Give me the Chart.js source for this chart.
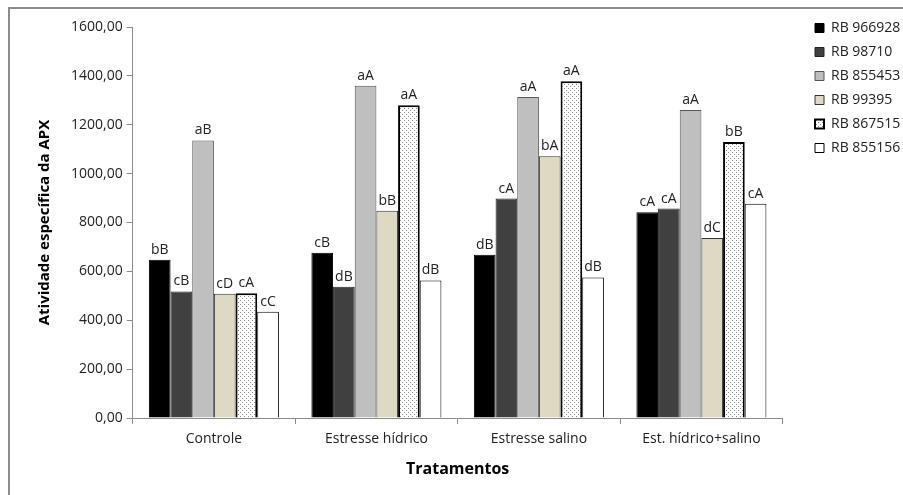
<!DOCTYPE html>
<html>
<head>
<meta charset="utf-8">
<script src="https://cdn.jsdelivr.net/npm/chart.js@4.4.0/dist/chart.umd.min.js"></script>
<style>
  html, body { margin: 0; padding: 0; background: #fff; }
  #wrap { position: relative; width: 903px; height: 495px; overflow: hidden; }
  #frame { position: absolute; left: 8px; top: 7px; width: 1000px; height: 600px;
           border-left: 2px solid #8c8c8c; border-top: 2px solid #8c8c8c; }
  canvas { position: absolute; left: 0; top: 0; }
</style>
</head>
<body>
<div id="wrap">
  <div id="frame"></div>
  <canvas id="chart" width="903" height="495"></canvas>
</div>
<script>
// categorias (tratamentos)
const tratamentos = ['Controle', 'Estresse hídrico', 'Estresse salino', 'Est. hídrico+salino'];

// variedades
const rb966928 = [648, 676, 668, 842];
const rb98710  = [518, 537, 898, 857];
const rb855453 = [1136, 1360, 1314, 1260];
const rb99395  = [508, 848, 1071, 737];
const rb867515 = [510, 1280, 1378, 1129];
const rb855156 = [435, 563, 575, 877];

// letras do teste de médias
const let966928 = ['bB', 'cB', 'dB', 'cA'];
const let98710  = ['cB', 'dB', 'cA', 'cA'];
const let855453 = ['aB', 'aA', 'aA', 'aA'];
const let99395  = ['cD', 'bB', 'bA', 'dC'];
const let867515 = ['cA', 'aA', 'aA', 'bB'];
const let855156 = ['cC', 'dB', 'dB', 'cA'];

const yTicks = [0, 200, 400, 600, 800, 1000, 1200, 1400, 1600];

// padrão pontilhado
const makeDots = () => {
  const c = document.createElement('canvas');
  c.width = 4; c.height = 4;
  const g = c.getContext('2d');
  g.fillStyle = '#fff';
  g.fillRect(0, 0, 4, 4);
  g.fillStyle = '#8a8a8a';
  g.fillRect(0, 0, 1, 1);
  g.fillRect(2, 2, 1, 1);
  return g.createPattern(c, 'repeat');
};
const dots = makeDots();

const FONT = "'Open Sans', 'Noto Sans', sans-serif";

const labelPlugin = {
  id: 'letras',
  afterDatasetsDraw(chart) {
    const ctx = chart.ctx;
    ctx.save();
    ctx.font = '14px ' + FONT;
    ctx.fillStyle = '#222';
    ctx.textAlign = 'center';
    ctx.textBaseline = 'bottom';
    chart.data.datasets.forEach((ds, i) => {
      const meta = chart.getDatasetMeta(i);
      meta.data.forEach((bar, j) => {
        ctx.fillText(ds.letras[j], bar.x, bar.y - 3);
      });
    });
    ctx.restore();
  }
};

// legenda no canto superior direito
const legendPos = {
  id: 'legendPos',
  afterLayout(chart) {
    const lg = chart.legend;
    const w = lg.width, h = lg.height;
    lg.left = 805; lg.right = 805 + w;
    lg.top = 11; lg.bottom = 11 + h;
  }
};

const mk = (label, data, letras, bg, border, bw) => ({
  label, data, letras,
  backgroundColor: bg,
  borderColor: border,
  borderWidth: bw,
  borderSkipped: 'bottom'
});

new Chart(document.getElementById('chart'), {
  type: 'bar',
  data: {
    labels: tratamentos,
    datasets: [
      mk('RB 966928', rb966928, let966928, '#000000', '#000000', 1),
      mk('RB 98710', rb98710, let98710, '#404040', '#222222', 1),
      mk('RB 855453', rb855453, let855453, '#bfbfbf', '#555555', 1),
      mk('RB 99395', rb99395, let99395, '#ddd9c3', '#333333', 1),
      mk('RB 867515', rb867515, let867515, dots, '#000000', 2),
      mk('RB 855156', rb855156, let855156, '#ffffff', '#000000', 1)
    ]
  },
  options: {
    responsive: false,
    animation: false,
    layout: { padding: { left: 32, top: 27, right: 15, bottom: 12 } },
    datasets: { bar: { categoryPercentage: 0.8, barPercentage: 1 } },
    plugins: {
      tooltip: { enabled: false },
      legend: {
        position: 'right',
        align: 'start',
        labels: {
          boxWidth: 9,
          boxHeight: 9,
          padding: 10,
          color: '#222',
          font: { family: FONT, size: 14 }
        }
      }
    },
    scales: {
      x: {
        grid: { offset: true, drawOnChartArea: false, color: '#8c8c8c', tickLength: 6 },
        border: { color: '#8c8c8c' },
        ticks: { color: '#222', font: { family: FONT, size: 14 }, padding: 7 },
        title: { display: true, text: 'Tratamentos', color: '#000',
                 font: { family: FONT, size: 16, weight: 'bold' }, padding: { top: 5 } }
      },
      y: {
        min: 0,
        max: 1600,
        afterBuildTicks(axis) { axis.ticks = yTicks.map(v => ({ value: v })); },
        grid: { drawOnChartArea: false, color: '#8c8c8c', tickLength: 6 },
        border: { color: '#8c8c8c' },
        ticks: {
          color: '#222',
          font: { family: FONT, size: 14 },
          padding: 4,
          callback: (v) => v.toFixed(2).replace('.', ',')
        },
        title: { display: true, text: 'Atividade específica da APX', color: '#000',
                 font: { family: FONT, size: 15, weight: 'bold' }, padding: { bottom: 13 } }
      }
    }
  },
  plugins: [labelPlugin, legendPos]
});
</script>
</body>
</html>
